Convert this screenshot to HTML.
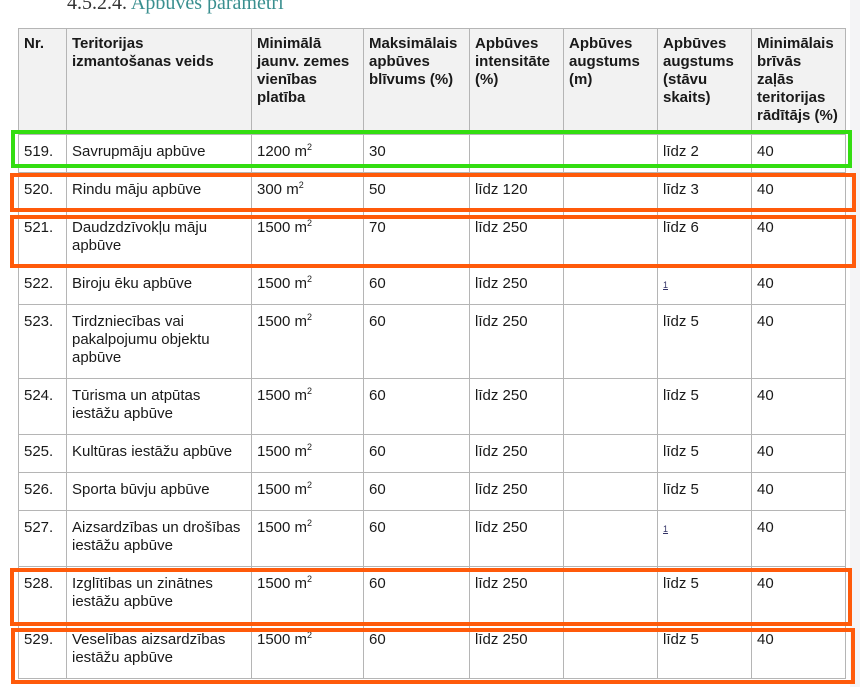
<!DOCTYPE html>
<html><head><meta charset="utf-8"><style>
body{margin:0;width:860px;height:687px;background:#fff;overflow:hidden;position:relative;font-family:"Liberation Sans",sans-serif;}
.title{position:absolute;left:67px;top:-8px;font-family:"Liberation Serif",serif;font-size:20px;color:#333;}
.title span{color:#3a8f8f;}
.edge{position:absolute;left:850px;top:0;width:10px;height:687px;background:#f4f4f6;}
table{position:absolute;left:18px;top:28px;border-collapse:collapse;font-size:15px;color:#1a1a1a;line-height:18px;table-layout:fixed;}
td,th{border:1.5px solid #b5b5b5;vertical-align:top;text-align:left;padding:8px 4px 0 5px;box-sizing:border-box;overflow:hidden;}
th{background:#f2f2f2;font-weight:bold;height:106px;padding-top:6px;}
tr.a td{height:38px}tr.b td{height:56px}tr.c td{height:74px}
sup{font-size:9px;line-height:0}
.ft{font-size:9px;color:#336;text-decoration:underline;}
.box{position:absolute;border:4px solid #ff5a0a;box-sizing:border-box;}
</style></head><body>
<div class="title">4.5.2.4. <span>Apbūves parametri</span></div>
<div class="edge"></div>
<table>
<colgroup><col style="width:48px"><col style="width:185px"><col style="width:112px"><col style="width:106px"><col style="width:94px"><col style="width:94px"><col style="width:94px"><col style="width:94px"></colgroup>
<tr><th>Nr.</th><th>Teritorijas<br>izmantošanas veids</th><th>Minimālā jaunv. zemes vienības platība</th><th>Maksimālais apbūves blīvums (%)</th><th>Apbūves intensitāte (%)</th><th>Apbūves augstums (m)</th><th>Apbūves augstums (stāvu skaits)</th><th>Minimālais brīvās zaļās teritorijas rādītājs (%)</th></tr>
<tr class="a"><td>519.</td><td>Savrupmāju apbūve</td><td>1200 m<sup>2</sup></td><td>30</td><td></td><td></td><td>līdz 2</td><td>40</td></tr>
<tr class="a"><td>520.</td><td>Rindu māju apbūve</td><td>300 m<sup>2</sup></td><td>50</td><td>līdz 120</td><td></td><td>līdz 3</td><td>40</td></tr>
<tr class="b"><td>521.</td><td>Daudzdzīvokļu māju apbūve</td><td>1500 m<sup>2</sup></td><td>70</td><td>līdz 250</td><td></td><td>līdz 6</td><td>40</td></tr>
<tr class="a"><td>522.</td><td>Biroju ēku apbūve</td><td>1500 m<sup>2</sup></td><td>60</td><td>līdz 250</td><td></td><td><span class="ft">1</span></td><td>40</td></tr>
<tr class="c"><td>523.</td><td>Tirdzniecības vai pakalpojumu objektu apbūve</td><td>1500 m<sup>2</sup></td><td>60</td><td>līdz 250</td><td></td><td>līdz 5</td><td>40</td></tr>
<tr class="b"><td>524.</td><td>Tūrisma un atpūtas iestāžu apbūve</td><td>1500 m<sup>2</sup></td><td>60</td><td>līdz 250</td><td></td><td>līdz 5</td><td>40</td></tr>
<tr class="a"><td>525.</td><td>Kultūras iestāžu apbūve</td><td>1500 m<sup>2</sup></td><td>60</td><td>līdz 250</td><td></td><td>līdz 5</td><td>40</td></tr>
<tr class="a"><td>526.</td><td>Sporta būvju apbūve</td><td>1500 m<sup>2</sup></td><td>60</td><td>līdz 250</td><td></td><td>līdz 5</td><td>40</td></tr>
<tr class="b"><td>527.</td><td>Aizsardzības un drošības iestāžu apbūve</td><td>1500 m<sup>2</sup></td><td>60</td><td>līdz 250</td><td></td><td><span class="ft">1</span></td><td>40</td></tr>
<tr class="b"><td>528.</td><td>Izglītības un zinātnes iestāžu apbūve</td><td>1500 m<sup>2</sup></td><td>60</td><td>līdz 250</td><td></td><td>līdz 5</td><td>40</td></tr>
<tr class="b"><td>529.</td><td>Veselības aizsardzības iestāžu apbūve</td><td>1500 m<sup>2</sup></td><td>60</td><td>līdz 250</td><td></td><td>līdz 5</td><td>40</td></tr>
</table>
<div class="box" style="border-color:#33dd11;left:11px;top:130px;width:841px;height:38px"></div>
<div class="box" style="left:10px;top:173px;width:846px;height:39px"></div>
<div class="box" style="left:10px;top:215px;width:846px;height:53px"></div>
<div class="box" style="left:10px;top:568px;width:842px;height:58px"></div>
<div class="box" style="left:11px;top:628px;width:844px;height:56px"></div>
</body></html>
